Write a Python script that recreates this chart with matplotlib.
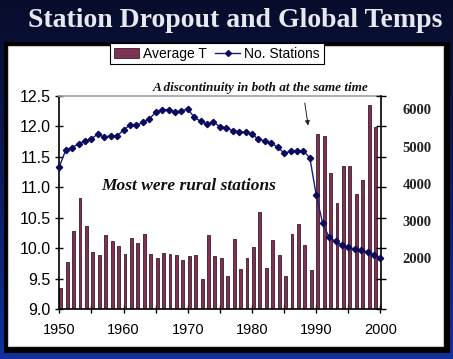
import numpy as np
import matplotlib
matplotlib.use('Agg')
import matplotlib.pyplot as plt
from matplotlib.patches import Rectangle, Patch
from matplotlib.lines import Line2D

# Average temperature per year (bars), 1950-1999
years_t = list(range(1950, 2000))
avg_t = [9.35, 9.77, 10.28, 10.83, 10.37, 9.93, 9.89, 10.22, 10.12, 10.04,
         9.90, 10.17, 10.08, 10.24, 9.90, 9.83, 9.92, 9.90, 9.89, 9.81,
         9.87, 9.89, 9.49, 10.22, 9.87, 9.84, 9.54, 10.15, 9.65, 9.84,
         10.02, 10.59, 9.68, 10.13, 9.89, 9.54, 10.24, 10.39, 10.05, 9.64,
         11.88, 11.85, 11.24, 10.74, 11.35, 11.35, 10.89, 11.12, 12.36, 11.99]

# Number of stations per year (line), 1950-2000
years_s = list(range(1950, 2001))
stations = [4460, 4905, 4970, 5070, 5150, 5210, 5335, 5250, 5290, 5285,
            5445, 5580, 5570, 5650, 5740, 5920, 5990, 5990, 5930, 5955,
            6010, 5785, 5680, 5605, 5650, 5535, 5505, 5425, 5400, 5380,
            5335, 5195, 5150, 5095, 4980, 4825, 4870, 4880, 4880, 4700,
            3690, 2940, 2565, 2455, 2365, 2295, 2250, 2225, 2170, 2095,
            2015]

x_major = [1950, 1960, 1970, 1980, 1990, 2000]
x_minor = list(range(1955, 2000, 10))
left_ticks = [9.0, 9.5, 10.0, 10.5, 11.0, 11.5, 12.0, 12.5]
right_labels = [2000, 3000, 4000, 5000, 6000]

W, H = 453, 359
fig = plt.figure(figsize=(W / 100, H / 100), dpi=100)


def px(x0, y0, x1, y1):
    # pixel box (top-left origin) -> figure fraction rect
    return [x0 / W, 1 - y1 / H, (x1 - x0) / W, (y1 - y0) / H]


# Background gradient, frame and white panel (pixel coordinates)
bg = fig.add_axes([0, 0, 1, 1])
bg.set_zorder(-5)
grad = np.linspace(0, 1, 256).reshape(-1, 1)
top = np.array([0.03, 0.05, 0.17])
bot = np.array([0.06, 0.19, 0.62])
img = top + (bot - top) * grad[..., None] ** 1.2
bg.imshow(img.reshape(256, 1, 3), aspect='auto', extent=[0, W, H, 0])
bg.add_patch(Rectangle((4, 41.5), 446, 311.5, facecolor='black',
                       edgecolor='none'))
bg.add_patch(Rectangle((7.5, 45.5), 435.5, 300.5, facecolor='white',
                       edgecolor='#c8c8c8', lw=0.8))
bg.set_xlim(0, W)
bg.set_ylim(H, 0)
bg.axis('off')

# Title
fig.text(0.519, 0.944, 'Station Dropout and Global Temps', ha='center',
         va='center', color='#e8e8f0', fontsize=20, fontweight='bold',
         family='Liberation Serif')

# Main axes
ax = fig.add_axes(px(59.3, 96, 380.5, 309))
ax.patch.set_alpha(0)
bar_color = '#7e3254'
ax.bar(years_t, avg_t, width=0.45, align='edge', color=bar_color,
       edgecolor='#3d1a2a', linewidth=0.6, zorder=2)
ax.set_xlim(1950, 2000)
ax.set_ylim(9.0, 12.5)
ax.set_yticks(left_ticks)
ax.set_yticklabels([f'{v:.1f}' for v in left_ticks], fontsize=11.5,
                   family='Liberation Sans')
ax.set_xticks(x_major)
ax.set_xticklabels([str(v) for v in x_major], fontsize=10.5,
                   family='Liberation Sans')
ax.set_xticks(x_minor, minor=True)
ax.tick_params(axis='x', which='both', direction='inout', length=6,
               width=1, pad=7)
ax.tick_params(axis='y', direction='inout', length=6, width=1, pad=3)
for s in ['left', 'bottom']:
    ax.spines[s].set_color('black')
    ax.spines[s].set_linewidth(1.2)
ax.spines['top'].set_color('#a0a0a0')
ax.spines['top'].set_linewidth(1.2)
ax.spines['right'].set_visible(False)

# Stations on secondary axis
ax2 = ax.twinx()
ax2.plot(years_s, stations, color='#1c1c80', lw=1, marker='D', ms=3.2,
         markerfacecolor='#0a0a60', markeredgecolor='#0a0a60', zorder=3,
         clip_on=False)
lo, hi = 639, 6357
ax2.set_ylim(lo, hi)
ax2.set_yticks(right_labels)
ax2.set_yticklabels([str(v) for v in right_labels], fontsize=10.5,
                    fontweight='bold', family='Liberation Serif',
                    color='#222222')
ax2.set_yticks(np.linspace(lo, hi, 8), minor=True)
ax2.tick_params(axis='y', which='major', length=0, pad=16)
ax2.tick_params(axis='y', which='minor', direction='inout', length=7,
                width=1)
ax2.spines['right'].set_color('black')
ax2.spines['right'].set_linewidth(1.2)
for s in ['top', 'left', 'bottom']:
    ax2.spines[s].set_visible(False)

# Annotations
ax.text(1981.3, 12.53, 'A discontinuity in both at the same time',
        ha='center', va='bottom', fontsize=9.5, style='italic',
        fontweight='bold', family='Liberation Serif', color='#111111',
        clip_on=False)
ax.text(1970.1, 11.02, 'Most were rural stations', ha='center',
        va='center', fontsize=12.5, style='italic', fontweight='bold',
        family='Liberation Serif', color='#111111')
ax.annotate('', xy=(1988.8, 11.97), xytext=(1988.15, 12.43),
            arrowprops=dict(arrowstyle='-|>', lw=0.7, color='#222222',
                            mutation_scale=7), annotation_clip=False)

# Legend
handles = [Patch(facecolor=bar_color, edgecolor='#3d1a2a', lw=0.6),
           Line2D([0], [0], color='#1c1c80', lw=1, marker='D', ms=3,
                  markerfacecolor='#0a0a60', markeredgecolor='#0a0a60')]
leg = fig.legend(handles, ['Average T', 'No. Stations'], loc='center',
                 bbox_to_anchor=(0.479, 0.850), ncol=2, fancybox=False,
                 framealpha=1, edgecolor='black', borderpad=0.25,
                 handlelength=1.8, handletextpad=0.3, columnspacing=0.6,
                 prop={'family': 'Liberation Sans', 'size': 10})
leg.get_frame().set_linewidth(0.8)

fig.savefig('out.png', dpi=100)
